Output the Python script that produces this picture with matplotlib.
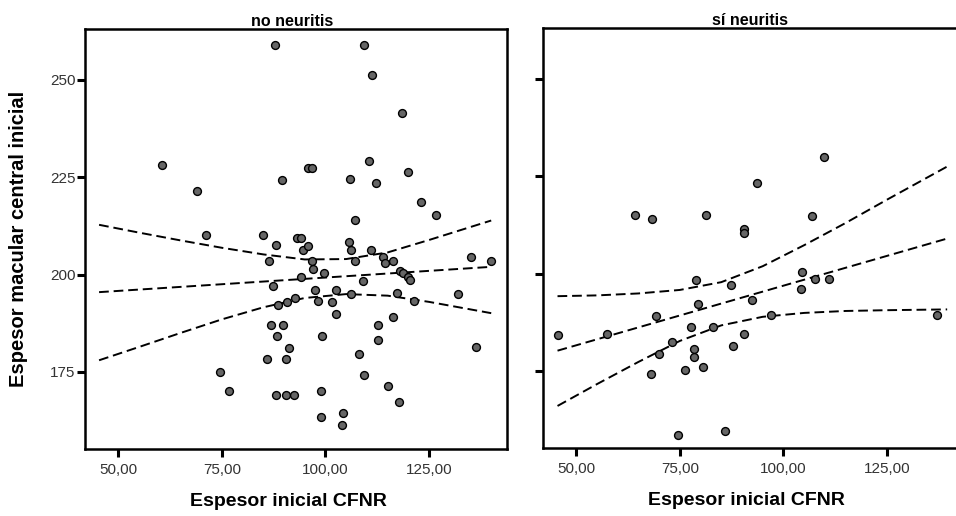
import matplotlib
matplotlib.use("Agg")
import matplotlib.pyplot as plt

plt.rcParams['font.family'] = ['Liberation Sans', 'DejaVu Sans']

# Espesor inicial CFNR / espesor macular central inicial, grupo sin neuritis
no_x = [87.8, 109.2, 111.2, 118.5, 60.6, 69.0, 89.5, 95.8, 96.8, 106.0,
        110.6, 112.1, 119.9, 123.1, 126.8, 107.1, 71.2, 85.0, 88.0, 93.2,
        94.2, 94.7, 95.9, 105.6, 106.1, 111.1, 135.2, 140.0, 86.3, 96.7,
        96.9, 107.1, 114.0, 114.4, 116.4, 118.0, 118.8, 120.0, 120.4, 87.3,
        94.2, 99.7, 109.0, 97.5, 98.3, 102.6, 101.5, 106.1, 117.2, 121.4,
        132.0, 92.7, 90.8, 88.6, 102.6, 116.4, 86.9, 89.7, 88.3, 99.2,
        112.6, 112.6, 91.1, 85.9, 90.5, 108.1, 74.6, 109.4, 76.8, 88.2,
        90.6, 92.5, 99.0, 115.0, 117.7, 99.0, 104.3, 103.9, 136.3]
no_y = [259.1, 259.1, 251.3, 241.5, 228.1, 221.4, 224.4, 227.3, 227.3, 224.5,
        229.3, 223.5, 226.4, 218.6, 215.2, 214.0, 210.1, 210.3, 207.6, 209.3,
        209.3, 206.3, 207.3, 208.4, 206.3, 206.2, 204.6, 203.6, 203.5, 203.6,
        201.4, 203.6, 204.5, 203.0, 203.5, 201.0, 200.3, 199.4, 198.5, 197.1,
        199.3, 200.5, 198.4, 196.1, 193.1, 196.1, 192.9, 195.0, 195.3, 193.1,
        195.1, 194.0, 192.9, 192.1, 190.0, 189.1, 187.1, 187.1, 184.3, 184.2,
        187.1, 183.2, 181.2, 178.4, 178.4, 179.5, 175.0, 174.1, 170.1, 169.2,
        169.2, 169.2, 170.1, 171.3, 167.3, 163.4, 164.4, 161.3, 181.5]

# grupo con neuritis
si_x = [64.2, 68.4, 81.3, 107.0, 90.5, 90.5, 109.8, 93.6, 79.0, 87.4,
        79.5, 69.3, 45.5, 57.4, 77.7, 83.0, 73.1, 69.9, 78.5, 78.5,
        68.0, 76.2, 80.5, 87.8, 90.5, 74.5, 86.0, 104.6, 104.3, 107.6,
        111.0, 92.3, 97.1, 137.0]
si_y = [215.0, 213.9, 215.1, 214.9, 211.5, 210.5, 230.0, 223.4, 198.4, 197.0,
        192.2, 189.2, 184.2, 184.4, 186.4, 186.4, 182.4, 179.4, 180.6, 178.5,
        174.2, 175.2, 176.1, 181.5, 184.4, 158.6, 159.6, 200.4, 196.0, 198.5,
        198.5, 193.2, 189.4, 189.4]

# recta de regresion e intervalo de confianza 95% de la media
no_fit_x = [45.4, 140.0]
no_fit_y = [195.5, 202.0]
no_ci_x = [45.4, 55, 65, 75, 85, 95, 105, 115, 125, 140]
no_ci_hi = [212.8, 210.8, 208.8, 206.9, 205.2, 203.9, 204.0, 205.7, 208.9, 213.9]
no_ci_lo = [178.0, 181.4, 185.0, 188.5, 191.6, 194.0, 195.0, 194.6, 193.0, 190.1]

si_fit_x = [45.5, 139.5]
si_fit_y = [180.2, 209.0]
si_ci_x = [45.5, 55, 65, 75, 85, 95, 105, 115, 125, 139.5]
si_ci_hi = [194.2, 194.4, 194.9, 195.8, 197.8, 201.9, 207.3, 213.0, 219.0, 227.5]
si_ci_lo = [166.0, 171.6, 177.3, 182.7, 186.7, 188.9, 189.9, 190.4, 190.6, 190.8]

x_ticks = [50, 75, 100, 125]
x_tick_labels = ["50,00", "75,00", "100,00", "125,00"]
y_ticks = [175, 200, 225, 250]

fig = plt.figure(figsize=(9.56, 5.16), dpi=100)
ax1 = fig.add_axes([0.0889, 0.1298, 0.4414, 0.814])
ax2 = fig.add_axes([0.568, 0.1318, 0.4414, 0.814])

panels = [
    (ax1, "no neuritis", no_x, no_y, no_fit_x, no_fit_y, no_ci_x, no_ci_hi, no_ci_lo),
    (ax2, "sí neuritis", si_x, si_y, si_fit_x, si_fit_y, si_ci_x, si_ci_hi, si_ci_lo),
]

for ax, title, xs, ys, fx, fy, cx, chi, clo in panels:
    ax.plot(cx, chi, color="black", lw=1.4, ls=(0, (5, 2.5)), zorder=2)
    ax.plot(cx, clo, color="black", lw=1.4, ls=(0, (5, 2.5)), zorder=2)
    ax.plot(fx, fy, color="black", lw=1.4, ls=(0, (5, 2.5)), zorder=2)
    ax.scatter(xs, ys, s=32, facecolor="#666666", edgecolor="black",
               linewidth=1.0, zorder=3)

    ax.set_xlim(42.0, 143.8)
    ax.set_ylim(155.2, 263.1)
    ax.set_xticks(x_ticks)
    ax.set_xticklabels(x_tick_labels)
    ax.set_yticks(y_ticks)
    for s in ax.spines.values():
        s.set_linewidth(1.8)
    ax.tick_params(axis="both", direction="out", length=6, width=2.2,
                   labelsize=11, labelcolor="#333333")
    ax.tick_params(axis="x", pad=4)
    ax.tick_params(axis="y", pad=1)
    ax.set_title(title, fontsize=11.5, fontweight="bold", pad=2, x=0.49)
    ax.set_xlabel("Espesor inicial CFNR", fontsize=14, fontweight="bold")
    ax.xaxis.set_label_coords(0.482, -0.105)

ax2.set_yticklabels([])
ax1.set_ylabel("Espesor macular central inicial", fontsize=14.5, fontweight="bold")
ax1.yaxis.set_label_coords(-0.135, 0.5)

fig.savefig("out.png", dpi=100)
